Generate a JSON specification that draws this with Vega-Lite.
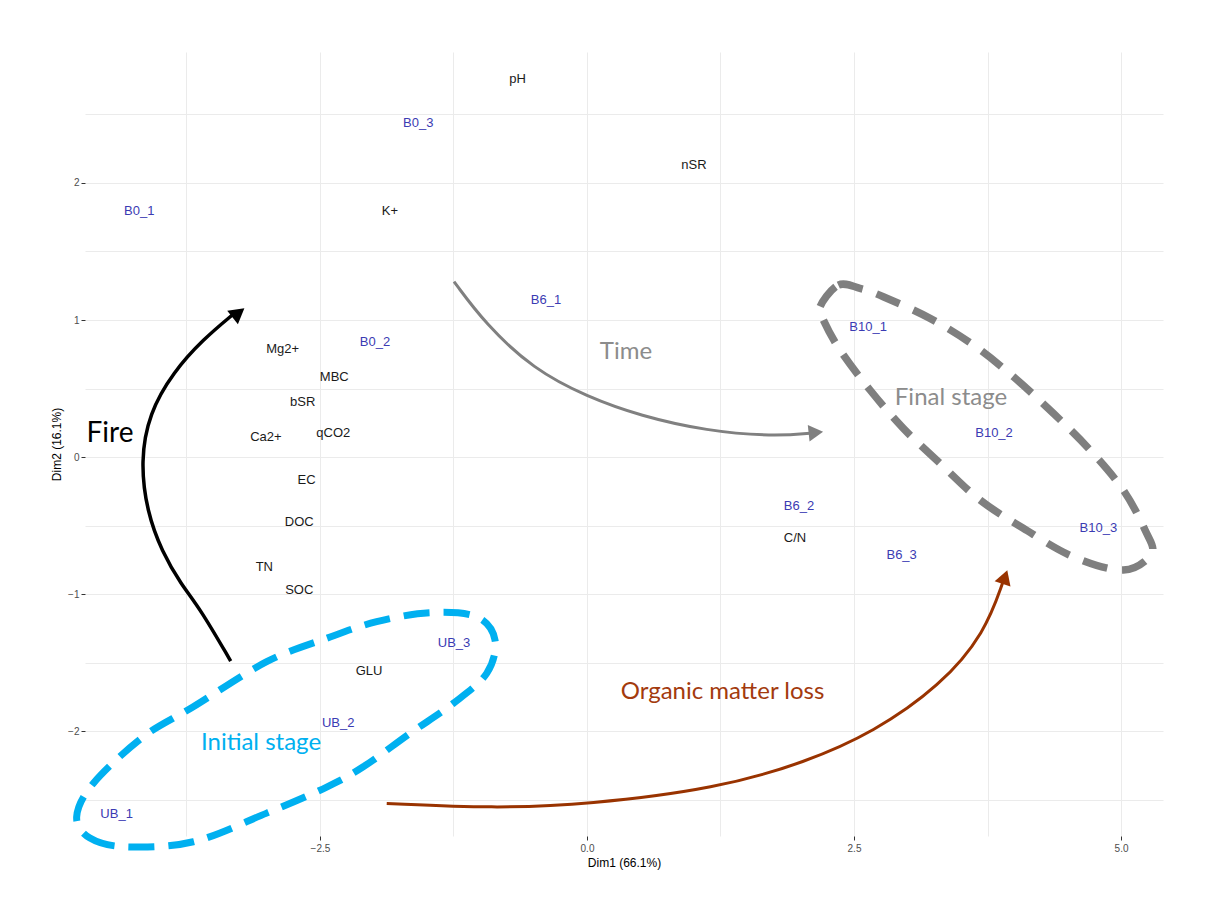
{
  "$schema": "https://vega.github.io/schema/vega-lite/v6.json",
  "autosize": "none",
  "width": 1078,
  "height": 784,
  "padding": {"left": 85, "top": 52, "right": 47, "bottom": 67},
  "background": "white",
  "config": {
    "view": {"stroke": null},
    "axis": {
      "domain": false,
      "gridColor": "#EBEBEB",
      "gridWidth": 1,
      "tickSize": 4,
      "labelFont": "Liberation Sans",
      "labelFontSize": 10,
      "labelColor": "#4D4D4D",
      "titleFont": "Liberation Sans",
      "titleFontSize": 12,
      "titleFontWeight": "normal",
      "titleColor": "#000000"
    }
  },
  "resolve": {"scale": {"color": "independent"}},
  "datasets": {
    "pts": [
      {"label": "pH", "x": -0.649, "y": 2.757, "grp": "var"},
      {"label": "nSR", "x": 1.002, "y": 2.131, "grp": "var"},
      {"label": "K+", "x": -1.845, "y": 1.796, "grp": "var"},
      {"label": "Mg2+", "x": -2.849, "y": 0.786, "grp": "var"},
      {"label": "MBC", "x": -2.366, "y": 0.582, "grp": "var"},
      {"label": "bSR", "x": -2.662, "y": 0.401, "grp": "var"},
      {"label": "Ca2+", "x": -3.006, "y": 0.148, "grp": "var"},
      {"label": "qCO2", "x": -2.375, "y": 0.173, "grp": "var"},
      {"label": "EC", "x": -2.625, "y": -0.168, "grp": "var"},
      {"label": "DOC", "x": -2.694, "y": -0.477, "grp": "var"},
      {"label": "TN", "x": -3.021, "y": -0.8, "grp": "var"},
      {"label": "SOC", "x": -2.694, "y": -0.971, "grp": "var"},
      {"label": "GLU", "x": -2.041, "y": -1.562, "grp": "var"},
      {"label": "C/N", "x": 1.948, "y": -0.594, "grp": "var"},
      {"label": "B0_1", "x": -4.192, "y": 1.796, "grp": "ind"},
      {"label": "B0_2", "x": -1.985, "y": 0.839, "grp": "ind"},
      {"label": "B0_3", "x": -1.58, "y": 2.436, "grp": "ind"},
      {"label": "B6_1", "x": -0.384, "y": 1.146, "grp": "ind"},
      {"label": "B6_2", "x": 1.985, "y": -0.355, "grp": "ind"},
      {"label": "B6_3", "x": 2.946, "y": -0.715, "grp": "ind"},
      {"label": "B10_1", "x": 2.632, "y": 0.947, "grp": "ind"},
      {"label": "B10_2", "x": 3.811, "y": 0.177, "grp": "ind"},
      {"label": "B10_3", "x": 4.788, "y": -0.521, "grp": "ind"},
      {"label": "UB_1", "x": -4.404, "y": -2.608, "grp": "ind"},
      {"label": "UB_2", "x": -2.329, "y": -1.939, "grp": "ind"},
      {"label": "UB_3", "x": -1.245, "y": -1.355, "grp": "ind"}
    ],
    "ann": [
      {"label": "Time", "x": 0.365, "y": 0.769},
      {"label": "Final stage", "x": 3.408, "y": 0.433},
      {"label": "Initial stage", "x": -3.052, "y": -2.09},
      {"label": "Organic matter loss", "x": 1.269, "y": -1.714},
      {"label": "Fire", "x": -4.466, "y": 0.168}
    ],
    "curves": [
      {"curve": "fire", "i": 1, "x": -3.336, "y": -1.489},
      {"curve": "fire", "i": 2, "x": -3.624, "y": -1.104},
      {"curve": "fire", "i": 3, "x": -3.8, "y": -0.93},
      {"curve": "fire", "i": 4, "x": -3.98, "y": -0.69},
      {"curve": "fire", "i": 5, "x": -4.12, "y": -0.4},
      {"curve": "fire", "i": 6, "x": -4.18, "y": -0.03},
      {"curve": "fire", "i": 7, "x": -4.1, "y": 0.32},
      {"curve": "fire", "i": 8, "x": -3.874, "y": 0.62},
      {"curve": "fire", "i": 9, "x": -3.593, "y": 0.86},
      {"curve": "fire", "i": 10, "x": -3.3, "y": 1.05},
      {"curve": "time", "i": 1, "x": -1.245, "y": 1.28},
      {"curve": "time", "i": 2, "x": -0.95, "y": 0.97},
      {"curve": "time", "i": 3, "x": -0.5, "y": 0.64},
      {"curve": "time", "i": 4, "x": 0.0, "y": 0.44},
      {"curve": "time", "i": 5, "x": 0.5, "y": 0.3},
      {"curve": "time", "i": 6, "x": 1.121, "y": 0.19},
      {"curve": "time", "i": 7, "x": 1.744, "y": 0.15},
      {"curve": "time", "i": 8, "x": 2.12, "y": 0.176},
      {"curve": "om", "i": 1, "x": -1.875, "y": -2.528},
      {"curve": "om", "i": 2, "x": -0.872, "y": -2.564},
      {"curve": "om", "i": 3, "x": 0.007, "y": -2.536},
      {"curve": "om", "i": 4, "x": 1.218, "y": -2.42},
      {"curve": "om", "i": 5, "x": 2.054, "y": -2.226},
      {"curve": "om", "i": 6, "x": 2.682, "y": -2.009},
      {"curve": "om", "i": 7, "x": 3.309, "y": -1.67},
      {"curve": "om", "i": 8, "x": 3.727, "y": -1.283},
      {"curve": "om", "i": 9, "x": 3.9, "y": -0.9},
      {"curve": "blue", "i": 1, "x": -4.778, "y": -2.626},
      {"curve": "blue", "i": 2, "x": -4.654, "y": -2.781},
      {"curve": "blue", "i": 3, "x": -4.31, "y": -2.845},
      {"curve": "blue", "i": 4, "x": -3.686, "y": -2.808},
      {"curve": "blue", "i": 5, "x": -2.999, "y": -2.599},
      {"curve": "blue", "i": 6, "x": -2.437, "y": -2.409},
      {"curve": "blue", "i": 7, "x": -2.095, "y": -2.261},
      {"curve": "blue", "i": 8, "x": -1.657, "y": -2.017},
      {"curve": "blue", "i": 9, "x": -1.252, "y": -1.798},
      {"curve": "blue", "i": 10, "x": -0.939, "y": -1.579},
      {"curve": "blue", "i": 11, "x": -0.861, "y": -1.336},
      {"curve": "blue", "i": 12, "x": -1.033, "y": -1.166},
      {"curve": "blue", "i": 13, "x": -1.47, "y": -1.136},
      {"curve": "blue", "i": 14, "x": -1.969, "y": -1.202},
      {"curve": "blue", "i": 15, "x": -2.437, "y": -1.323},
      {"curve": "blue", "i": 16, "x": -2.999, "y": -1.494},
      {"curve": "blue", "i": 17, "x": -3.686, "y": -1.823},
      {"curve": "blue", "i": 18, "x": -4.154, "y": -2.042},
      {"curve": "blue", "i": 19, "x": -4.623, "y": -2.382},
      {"curve": "gray", "i": 1, "x": 2.182, "y": 1.097},
      {"curve": "gray", "i": 2, "x": 2.353, "y": 1.255},
      {"curve": "gray", "i": 3, "x": 2.556, "y": 1.231},
      {"curve": "gray", "i": 4, "x": 2.774, "y": 1.17},
      {"curve": "gray", "i": 5, "x": 3.212, "y": 1.012},
      {"curve": "gray", "i": 6, "x": 3.617, "y": 0.818},
      {"curve": "gray", "i": 7, "x": 3.992, "y": 0.586},
      {"curve": "gray", "i": 8, "x": 4.366, "y": 0.319},
      {"curve": "gray", "i": 9, "x": 4.71, "y": 0.051},
      {"curve": "gray", "i": 10, "x": 5.021, "y": -0.241},
      {"curve": "gray", "i": 11, "x": 5.225, "y": -0.533},
      {"curve": "gray", "i": 12, "x": 5.287, "y": -0.703},
      {"curve": "gray", "i": 13, "x": 5.021, "y": -0.825},
      {"curve": "gray", "i": 14, "x": 4.553, "y": -0.728},
      {"curve": "gray", "i": 15, "x": 4.085, "y": -0.52},
      {"curve": "gray", "i": 16, "x": 3.68, "y": -0.314},
      {"curve": "gray", "i": 17, "x": 3.305, "y": -0.046},
      {"curve": "gray", "i": 18, "x": 2.962, "y": 0.209},
      {"curve": "gray", "i": 19, "x": 2.65, "y": 0.489},
      {"curve": "gray", "i": 20, "x": 2.369, "y": 0.781},
      {"curve": "gray", "i": 21, "x": 2.213, "y": 1.0}
    ],
    "heads": [
      {"curve": "fire", "x": -3.263, "y": 1.052},
      {"curve": "time", "x": 2.143, "y": 0.179},
      {"curve": "om", "x": 3.913, "y": -0.876}
    ]
  },
  "encoding": {
    "x": {
      "field": "x", "type": "quantitative",
      "scale": {"domain": [-4.7, 5.393], "nice": false, "zero": false},
      "axis": {
        "title": "Dim1 (66.1%)",
        "values": [-3.75, -2.5, -1.25, 0, 1.25, 2.5, 3.75, 5],
        "labelExpr": "datum.value % 2.5 === 0 ? format(datum.value, '.1f') : ''",
        "tickColor": {"condition": {"test": "datum.value % 2.5 !== 0", "value": "transparent"}, "value": "#333333"},
        "labelPadding": 3,
        "titlePadding": 4
      }
    },
    "y": {
      "field": "y", "type": "quantitative",
      "scale": {"domain": [-2.766, 2.956], "nice": false, "zero": false},
      "axis": {
        "title": "Dim2 (16.1%)",
        "values": [-2.5, -2, -1.5, -1, -0.5, 0, 0.5, 1, 1.5, 2, 2.5],
        "labelExpr": "datum.value % 1 === 0 ? format(datum.value, 'd') : ''",
        "tickColor": {"condition": {"test": "datum.value % 1 !== 0", "value": "transparent"}, "value": "#333333"},
        "labelPadding": 2,
        "titlePadding": 4
      }
    }
  },
  "layer": [
    {
      "data": {"values": [{"v": 0}]},
      "mark": {"type": "rule", "color": "#555555", "strokeDash": [3, 3], "strokeWidth": 1.2},
      "encoding": {"x": {"datum": 0, "type": "quantitative"}, "y": null}
    },
    {
      "data": {"values": [{"v": 0}]},
      "mark": {"type": "rule", "color": "#555555", "strokeDash": [3, 3], "strokeWidth": 1.2},
      "encoding": {"y": {"datum": 0, "type": "quantitative"}, "x": null}
    },
    {
      "data": {"name": "curves"},
      "transform": [{"filter": "datum.curve === 'blue'"}],
      "mark": {"type": "line", "interpolate": "cardinal-closed", "color": "#00B0F0", "strokeWidth": 7, "strokeDash": [26, 14], "strokeCap": "butt"},
      "encoding": {"order": {"field": "i", "type": "quantitative"}}
    },
    {
      "data": {"name": "curves"},
      "transform": [{"filter": "datum.curve === 'gray'"}],
      "mark": {"type": "line", "interpolate": "cardinal-closed", "color": "#7F7F7F", "strokeWidth": 7.5, "strokeDash": [25, 15], "strokeCap": "butt"},
      "encoding": {"order": {"field": "i", "type": "quantitative"}}
    },
    {
      "data": {"name": "curves"},
      "transform": [{"filter": "datum.curve === 'fire'"}],
      "mark": {"type": "line", "interpolate": "basis", "color": "#000000", "strokeWidth": 3.5},
      "encoding": {"order": {"field": "i", "type": "quantitative"}}
    },
    {
      "data": {"name": "curves"},
      "transform": [{"filter": "datum.curve === 'time'"}],
      "mark": {"type": "line", "interpolate": "basis", "color": "#808080", "strokeWidth": 3},
      "encoding": {"order": {"field": "i", "type": "quantitative"}}
    },
    {
      "data": {"name": "curves"},
      "transform": [{"filter": "datum.curve === 'om'"}],
      "mark": {"type": "line", "interpolate": "basis", "color": "#993300", "strokeWidth": 3},
      "encoding": {"order": {"field": "i", "type": "quantitative"}}
    },
    {
      "data": {"name": "heads"},
      "transform": [{"filter": "datum.curve === 'fire'"}],
      "mark": {"type": "point", "shape": "triangle-up", "filled": true, "color": "#000000", "opacity": 1, "size": 300, "angle": 52}
    },
    {
      "data": {"name": "heads"},
      "transform": [{"filter": "datum.curve === 'time'"}],
      "mark": {"type": "point", "shape": "triangle-up", "filled": true, "color": "#808080", "opacity": 1, "size": 280, "angle": 84}
    },
    {
      "data": {"name": "heads"},
      "transform": [{"filter": "datum.curve === 'om'"}],
      "mark": {"type": "point", "shape": "triangle-up", "filled": true, "color": "#993300", "opacity": 1, "size": 280, "angle": 19}
    },
    {
      "data": {"name": "pts"},
      "transform": [{"filter": "datum.grp === 'ind'"}],
      "mark": {"type": "text", "font": "Liberation Sans", "fontSize": 13, "align": "center", "baseline": "middle", "color": "#3B3BB3"},
      "encoding": {"text": {"field": "label"}}
    },
    {
      "data": {"name": "pts"},
      "transform": [{"filter": "datum.grp === 'var'"}],
      "mark": {"type": "text", "font": "Liberation Sans", "fontSize": 13, "align": "center", "baseline": "middle", "color": "#1A1A1A"},
      "encoding": {"text": {"field": "label"}}
    },
    {
      "data": {"name": "ann"},
      "transform": [{"filter": "datum.label === 'Time' || datum.label === 'Final stage'"}],
      "mark": {"type": "text", "font": "Lato", "fontSize": 24, "align": "center", "baseline": "middle", "color": "#8C8C8C"},
      "encoding": {"text": {"field": "label"}}
    },
    {
      "data": {"name": "ann"},
      "transform": [{"filter": "datum.label === 'Initial stage'"}],
      "mark": {"type": "text", "font": "Lato", "fontSize": 24, "align": "center", "baseline": "middle", "color": "#00B0F0"},
      "encoding": {"text": {"field": "label"}}
    },
    {
      "data": {"name": "ann"},
      "transform": [{"filter": "datum.label === 'Organic matter loss'"}],
      "mark": {"type": "text", "font": "Lato", "fontSize": 24, "align": "center", "baseline": "middle", "color": "#A33A0E"},
      "encoding": {"text": {"field": "label"}}
    },
    {
      "data": {"name": "ann"},
      "transform": [{"filter": "datum.label === 'Fire'"}],
      "mark": {"type": "text", "font": "Lato", "fontSize": 28, "align": "center", "baseline": "middle", "color": "#000000"},
      "encoding": {"text": {"field": "label"}}
    }
  ]
}
